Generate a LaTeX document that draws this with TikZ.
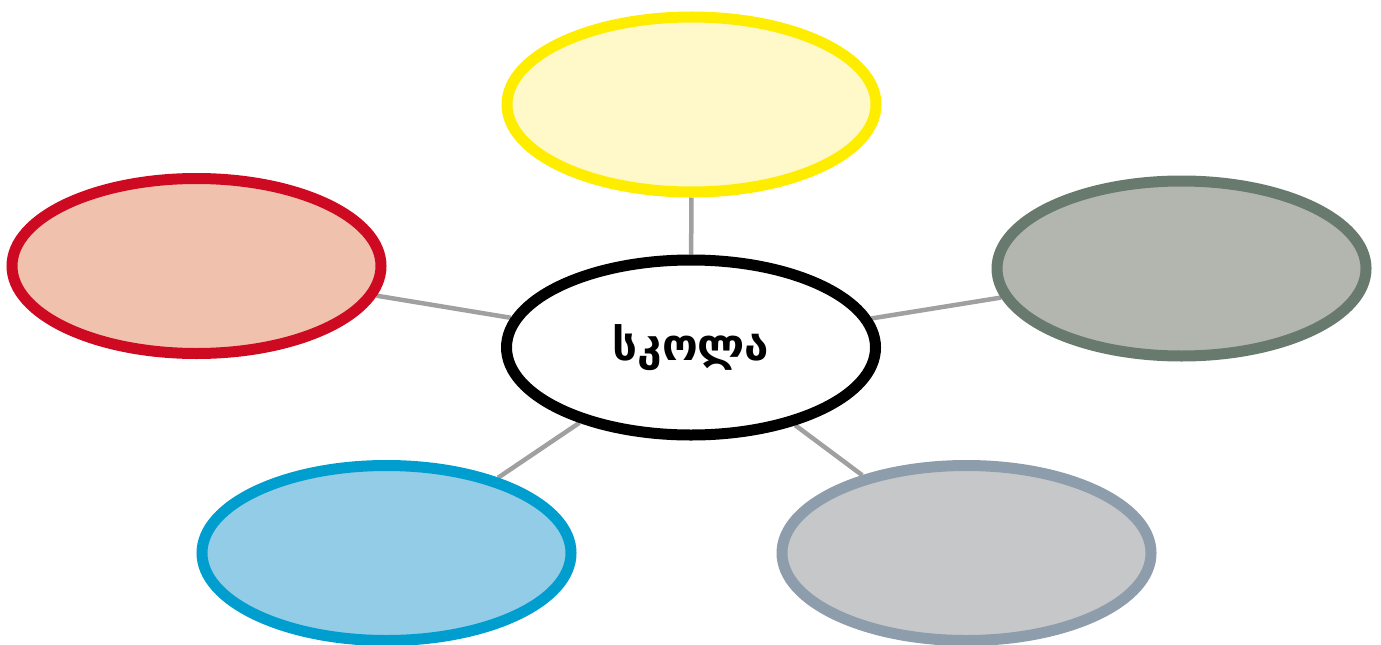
\documentclass[tikz,border=0pt]{standalone}
\usepackage{fontspec}
\usepackage{tikz}
\usetikzlibrary{backgrounds,shapes.geometric}
\newfontfamily\geofont{DejaVu Sans}

\definecolor{yelline}{HTML}{FFED00}
\definecolor{yelfill}{HTML}{FFF8C8}
\definecolor{redline}{HTML}{CE0A22}
\definecolor{redfill}{HTML}{F0C1AD}
\definecolor{grnline}{HTML}{68796D}
\definecolor{grnfill}{HTML}{B3B6AF}
\definecolor{bluline}{HTML}{009ECF}
\definecolor{blufill}{HTML}{93CCE6}
\definecolor{gryline}{HTML}{8E9DAB}
\definecolor{gryfill}{HTML}{C6C7C9}
\definecolor{linkgray}{HTML}{A0A0A0}

\tikzset{
    bubble/.style={ellipse, line width=0.11cm, minimum width=3.69cm, minimum height=1.75cm, inner sep=0pt},
    link/.style={draw=linkgray, line width=0.045cm}
}

\begin{document}
\begin{tikzpicture}
            \useasboundingbox (0,0) rectangle (13.81,-6.44);
            \node[bubble, draw=black, fill=white, font=\geofont\bfseries\fontsize{12.5}{15}\selectfont] (school) at (6.91,-3.475) {სკოლა};
            \node[bubble, draw=yelline, fill=yelfill] (top) at (6.915,-1.045) {};
            \node[bubble, draw=redline, fill=redfill] (left) at (1.965,-2.66) {};
            \node[bubble, draw=grnline, fill=grnfill] (right) at (11.815,-2.685) {};
            \node[bubble, draw=bluline, fill=blufill] (botleft) at (3.865,-5.53) {};
            \node[bubble, draw=gryline, fill=gryfill] (botright) at (9.665,-5.53) {};
            \begin{scope}[on background layer]
                \draw[link] (school) -- (top);
                \draw[link] (school) -- (left);
                \draw[link] (school) -- (right);
                \draw[link] (school) -- (botleft);
                \draw[link] (school) -- (botright);
            \end{scope}
        \end{tikzpicture}
\end{document}
